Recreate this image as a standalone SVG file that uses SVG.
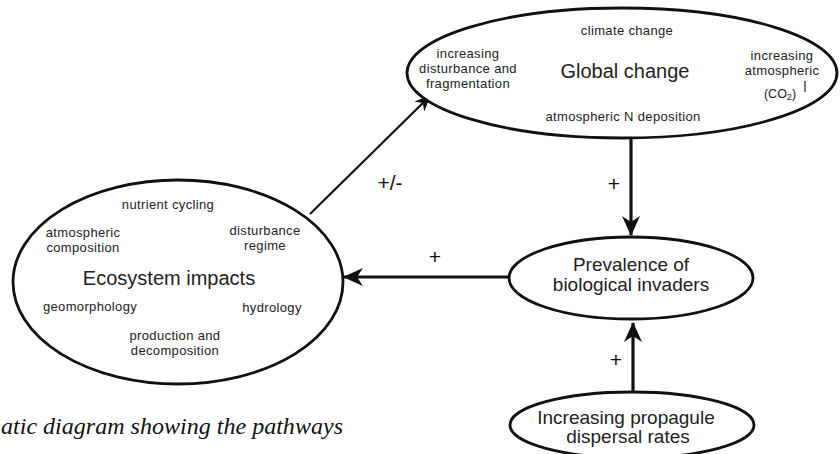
<svg xmlns="http://www.w3.org/2000/svg" width="840" height="454" viewBox="0 0 840 454">
<style>
.node ellipse{fill:#fff;stroke:#111;stroke-width:2.8}
.t{font-family:"Liberation Sans",Arial,sans-serif;fill:#222;text-anchor:middle}
.s{font-size:13px;letter-spacing:0.35px}
.m{font-size:19px}
.b{font-size:20px}
.c line{stroke:#111}
.lbl{font-family:"Liberation Sans",Arial,sans-serif;font-size:21px;fill:#111;text-anchor:middle}
.cap{font-family:"Liberation Serif","Times New Roman",serif;font-style:italic;font-size:24px;fill:#111}
</style>
<defs>
<marker id="ah" viewBox="0 0 16 14" refX="15" refY="7" markerWidth="16" markerHeight="14" markerUnits="userSpaceOnUse" orient="auto">
<path d="M0,0 L16,7 L0,14 L5,7 z" fill="#111"/>
</marker>
<marker id="ahL" viewBox="0 0 20 18" refX="19" refY="9" markerWidth="20" markerHeight="18" markerUnits="userSpaceOnUse" orient="auto">
<path d="M0,0 L20,9 L0,18 L6,9 z" fill="#111"/>
</marker>
</defs>
<g id="connectors" class="c">
<line x1="310" y1="214" x2="430" y2="96" stroke-width="2.2" marker-end="url(#ah)"/>
<line x1="631" y1="138" x2="631" y2="235" stroke-width="3.2" marker-end="url(#ahL)"/>
<line x1="510" y1="277" x2="344" y2="277" stroke-width="2.8" marker-end="url(#ahL)"/>
<line x1="633" y1="393" x2="633" y2="323" stroke-width="3.2" marker-end="url(#ahL)"/>
<text class="lbl" x="390" y="190">+/-</text>
<text class="lbl" x="614" y="191">+</text>
<text class="lbl" x="435" y="264">+</text>
<text class="lbl" x="616" y="367">+</text>
</g>
<g id="global-change" class="node">
<ellipse cx="622" cy="73" rx="215" ry="65"/>
<text class="t s" x="627" y="35">climate change</text>
<text class="t b" x="625" y="78">Global change</text>
<text class="t s" x="468" y="58">increasing</text>
<text class="t s" x="468" y="73">disturbance and</text>
<text class="t s" x="468" y="88">fragmentation</text>
<text class="t s" x="623" y="121">atmospheric N deposition</text>
<text class="t s" x="782" y="60">increasing</text>
<text class="t s" x="782" y="75">atmospheric</text>
<text class="t" x="780" y="98" font-size="12.5">(CO<tspan font-size="9" dy="2">2</tspan><tspan dy="-2">)</tspan></text>
<line x1="805" y1="81" x2="805" y2="92" stroke="#222" stroke-width="1.2"/>
</g>
<g id="ecosystem-impacts" class="node">
<ellipse cx="178" cy="282" rx="165" ry="102"/>
<text class="t b" x="169" y="285">Ecosystem impacts</text>
<text class="t s" x="168" y="209">nutrient cycling</text>
<text class="t s" x="83" y="237">atmospheric</text>
<text class="t s" x="83" y="252">composition</text>
<text class="t s" x="265" y="235">disturbance</text>
<text class="t s" x="265" y="250">regime</text>
<text class="t s" x="90" y="311">geomorphology</text>
<text class="t s" x="272" y="312">hydrology</text>
<text class="t s" x="175" y="340">production and</text>
<text class="t s" x="175" y="355">decomposition</text>
</g>
<g id="prevalence" class="node">
<ellipse cx="631" cy="278" rx="122" ry="41"/>
<text class="t m" x="631" y="271">Prevalence of</text>
<text class="t m" x="631" y="291">biological invaders</text>
</g>
<g id="propagule" class="node">
<ellipse cx="632" cy="425" rx="122" ry="33"/>
<text class="t m" x="626" y="424">Increasing propagule</text>
<text class="t m" x="628" y="443">dispersal rates</text>
</g>
<text class="cap" x="1" y="434" textLength="342" lengthAdjust="spacingAndGlyphs">atic diagram showing the pathways</text>
</svg>
